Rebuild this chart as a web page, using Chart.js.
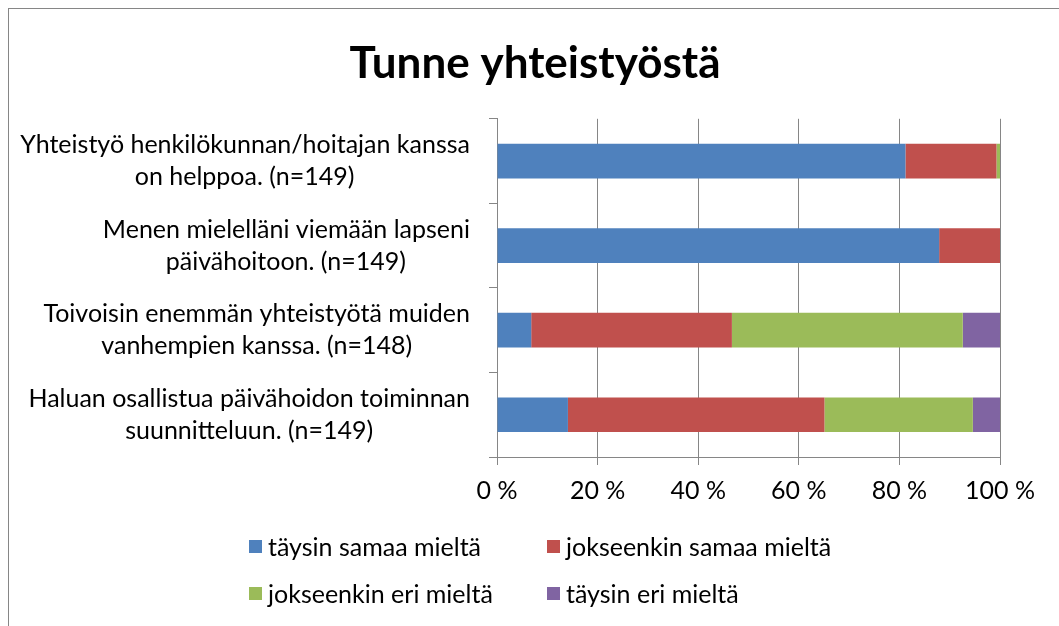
<!DOCTYPE html>
<html>
<head>
<meta charset="utf-8">
<script src="https://cdn.jsdelivr.net/npm/chart.js"></script>
<style>
  html, body { margin: 0; padding: 0; background: #fff; overflow: hidden; }
  #wrap { position: relative; width: 1059px; height: 626px; overflow: hidden; }
  #frame { position: absolute; left: 8px; top: 8px; width: 1200px; height: 800px; border: 1px solid #868686; }
  #chart { position: absolute; left: 0; top: 0; }
  #legend { position: absolute; left: 249px; top: 530px; font-family: "Lato", sans-serif; font-size: 25px; color: #000; }
  .item { position: absolute; white-space: nowrap; display: flex; align-items: center; height: 32px; }
  .box { width: 13px; height: 13px; margin-right: 6px; }
</style>
</head>
<body>
<div id="wrap">
  <div id="frame"></div>
  <canvas id="chart" width="1129" height="626"></canvas>
  <div id="legend"></div>
</div>
<script>
const FONT = "Lato";
const LABEL_SIZE = 25;

const categories = [
    ["Yhteistyö henkilökunnan/hoitajan kanssa", "on helppoa. (n=149)"],
    ["Menen mielelläni viemään lapseni", "päivähoitoon. (n=149)"],
    ["Toivoisin enemmän yhteistyötä muiden", "vanhempien kanssa. (n=148)"],
    ["Haluan osallistua päivähoidon toiminnan", "suunnitteluun. (n=149)"]
];

const seriesNames = ["täysin samaa mieltä", "jokseenkin samaa mieltä", "jokseenkin eri mieltä", "täysin eri mieltä"];
const seriesColors = ["#4F81BD", "#C0504D", "#9BBB59", "#8064A2"];

// prosentit
const taysinSamaa = [81.2, 87.9, 6.8, 14.1];
const jokseenkinSamaa = [18.1, 12.1, 39.9, 51.0];
const jokseenkinEri = [0.7, 0, 45.9, 29.5];
const taysinEri = [0, 0, 7.4, 5.4];

const xTicks = [0, 20, 40, 60, 80, 100];

const seriesValues = [taysinSamaa, jokseenkinSamaa, jokseenkinEri, taysinEri];

// Excel tasaa selitteen oikealle, rivit keskitetään lohkon sisällä:
// lyhyempään riviin lisätään loppuun ohuita välilyöntejä
const measure = document.createElement("canvas").getContext("2d");
measure.font = LABEL_SIZE + "px " + FONT;
const HAIR = "\u200A";
function centerLines(lines) {
    const widths = lines.map(l => measure.measureText(l).width);
    const widest = Math.max(...widths);
    const sp = measure.measureText(HAIR).width || 1;
    return lines.map((l, i) => l + HAIR.repeat(Math.round((widest - widths[i]) / 2 / sp)));
}
const yLabels = categories.map(centerLines);

const ctx = document.getElementById("chart").getContext("2d");

new Chart(ctx, {
    type: "bar",
    data: {
        labels: categories,
        datasets: seriesNames.map((name, i) => ({
            label: name,
            data: seriesValues[i],
            backgroundColor: seriesColors[i],
            borderWidth: 0,
            barPercentage: 0.41,
            categoryPercentage: 1.0
        }))
    },
    options: {
        indexAxis: "y",
        responsive: false,
        animation: false,
        layout: { padding: { left: 0, right: 59, top: 0, bottom: 109 } },
        plugins: {
            legend: { display: false },
            tooltip: { enabled: false },
            title: {
                display: true,
                text: "Tunne yhteistyöstä",
                color: "#000",
                font: { family: FONT, size: 44, weight: "bold", lineHeight: 1.2 },
                padding: { top: 37, bottom: 29 }
            }
        },
        scales: {
            x: {
                stacked: true,
                min: 0,
                max: 100,
                afterBuildTicks: scale => { scale.ticks = xTicks.map(v => ({ value: v })); },
                afterFit: scale => { scale.height = 60; },
                ticks: {
                    color: "#000",
                    padding: 11,
                    font: { family: FONT, size: LABEL_SIZE, lineHeight: 1.23 },
                    callback: v => v + " %"
                },
                grid: { color: "#868686", tickLength: 8 },
                border: { color: "#868686" }
            },
            y: {
                stacked: true,
                afterFit: scale => { scale.width = 497; },
                ticks: {
                    color: "#000",
                    padding: 19,
                    crossAlign: "near",
                    font: { family: FONT, size: LABEL_SIZE, lineHeight: 1.28 },
                    callback: (v, i) => yLabels[i]
                },
                grid: { drawOnChartArea: false, color: "#868686", tickLength: 8 },
                border: { color: "#868686" }
            },
            // tyhjä akseli oikealla, jotta otsikko keskittyy kuten alkuperäisessä
            yRight: {
                type: "category",
                position: "right",
                afterFit: scale => { scale.width = 70; },
                ticks: { display: false },
                grid: { display: false },
                border: { display: false }
            }
        }
    }
});

// Selite kahteen sarakkeeseen kuten Excelissä
const legendEl = document.getElementById("legend");
const colX = [0, 298];
const rowY = [0, 47];
seriesNames.forEach((name, i) => {
    const item = document.createElement("div");
    item.className = "item";
    item.style.left = colX[i % 2] + "px";
    item.style.top = rowY[Math.floor(i / 2)] + "px";
    item.innerHTML = `<span class="box" style="background:${seriesColors[i]}"></span><span>${name}</span>`;
    legendEl.appendChild(item);
});
</script>
</body>
</html>
